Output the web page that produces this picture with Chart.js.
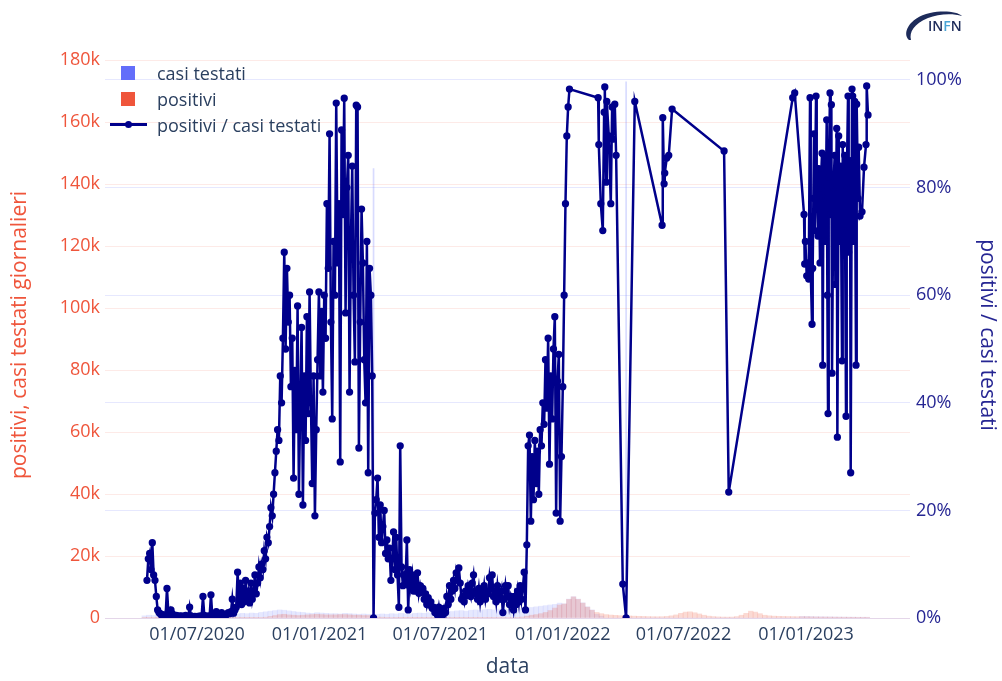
<!DOCTYPE html>
<html lang="it">
<head>
<meta charset="utf-8">
<title>positivi / casi testati</title>
<script src="https://cdn.jsdelivr.net/npm/chart.js@4.4.1/dist/chart.umd.min.js"></script>
<style>
  body { margin: 0; background: #fff; font-family: "Open Sans", sans-serif; }
  #wrap { position: relative; width: 1002px; height: 681px; overflow: hidden; }
  #chart { position: absolute; left: 0; top: 0; }
  .leg { position: absolute; left: 157px; font-size: 18px; line-height: 20px; color: #2a3f5f; white-space: nowrap; }
  .sq { position: absolute; left: 121px; width: 14px; height: 14px; }
  #logo { position: absolute; left: 900px; top: 4px; }
</style>
</head>
<body>
<div id="wrap">
  <canvas id="chart" width="1002" height="681"></canvas>
  <div class="sq" style="top:66px;background:#636efa"></div>
  <div class="leg" style="top:63px">casi testati</div>
  <div class="sq" style="top:92px;background:#ef553b"></div>
  <div class="leg" style="top:89px">positivi</div>
  <div style="position:absolute;left:110px;top:123px;width:37px;height:3px;background:#00008b"></div>
  <div style="position:absolute;left:125px;top:121px;width:7px;height:7px;border-radius:50%;background:#00008b"></div>
  <div class="leg" style="top:115px">positivi / casi testati</div>
  <svg id="logo" width="70" height="40" viewBox="0 0 70 40">
    <path d="M9 36 C2 30 8 14 30 9 C44 6 58 8 62 12 C52 9 38 10 28 14 C14 20 9 28 11 36 Z" fill="#1d2b5a"/>
    <text x="28" y="27" font-family="Open Sans, sans-serif" font-size="14" font-weight="600" fill="#1d2b5a">IN<tspan fill="#4aa3d5">F</tspan>N</text>
  </svg>
</div>
<script>
// x tick dates
const xTickDates = ["2020-07-01", "2021-01-01", "2021-07-01", "2022-01-01", "2022-07-01", "2023-01-01"];
const xRange = ["2020-02-14", "2023-06-06"];

// left axis ticks (positivi, casi testati) and right axis ticks (ratio)
const leftTicks = [0, 20000, 40000, 60000, 80000, 100000, 120000, 140000, 160000, 180000];
const rightTicks = [0, 0.2, 0.4, 0.6, 0.8, 1];

// positivi / casi testati (%), one value every 2 days from 2020-04-17 to 2022-01-09
const ratioStart = "2020-04-17";
const ratioStepDays = 2;
const ratioDense = [
  7, 11, 12, 9, 14, 8, 7, 4,
  1.5, 1, 0.8, 0.5, 0.6, 0.4, 0.5, 5.5,
  1.2, 0.5, 1.5, 0.8, 0.3, 0.4, 0.5, 0.3, 0.4,
  0.3, 0.4, 0.2, 0.3, 0.5, 0.2, 0.3, 2.0, 0.4, 0.3, 0.2, 0.3,
  0.2, 0.3, 0.2, 0.4, 0.3, 4.0, 0.5, 0.3, 0.2, 0.4, 0.3,
  4.3, 0.5, 0.4, 0.6, 1.2, 0.8, 0.5, 0.7, 1.0, 0.6, 0.4,
  0.5, 0.7, 1.0, 0.8, 1.2, 3.5, 0.9, 1.5, 2.0, 8.5, 3.0,
  6.5, 2.5, 5.5, 3.0, 7.0, 4.0, 5.0, 2.8, 6.5, 3.5, 5.0, 8.0, 4.5,
  6.5, 9.5, 7.5, 10.0,
  9, 12.5, 11, 15, 14, 17,
  20.5, 19, 23,
  27, 31, 35, 33,
  45, 40, 52, 68,
  50, 65, 55, 60, 43, 52,
  26, 46, 35, 58, 23, 40,
  54, 21, 45, 33, 56, 38, 60.6,
  40, 25, 45, 19, 35, 48, 60.6,
  45, 57, 42, 60, 52, 77, 65,
  90, 55, 37, 70, 60, 95.7, 66, 77, 29,
  90.7, 75, 96.6, 56.7, 80, 86, 42,
  70, 84, 60, 47.6, 95.3, 95, 31.6,
  55, 76, 66, 48, 40, 70, 27, 65,
  60, 45, 0,
  19.5, 22, 26, 15, 21, 14, 17, 20,
  12, 14.5, 11, 13, 7, 11, 16, 9,
  15, 8, 2, 32, 9.5, 6, 8,
  7, 14.5, 1.5, 9, 6, 8, 5, 7.5,
  5, 8.4, 4.6, 6, 4.8, 5.5, 3.5,
  4.5, 2.5, 3.8, 2.4, 3, 1.8, 2, 1,
  1.5, 0.5, 2, 0.3, 1.2, 0.6, 1.8,
  1, 4, 2.5, 6, 3.5, 5,
  7, 5.5, 8.4, 7, 9.3, 6.5,
  3.5, 4, 3, 5, 4.2, 6, 5, 4,
  6.5, 8, 5, 4.5, 3.5, 5.5, 3,
  5, 4, 6, 3.5, 5, 4.5, 7.5, 5.5,
  8, 4, 5, 3, 6, 4, 3.5,
  5, 1, 3.5, 6, 4, 6, 2.5, 4,
  3, 1.5, 4, 2.5, 5, 3, 6,
  3.5, 5.5, 8.5, 1.5, 13.6,
  32, 34, 18, 30, 22, 33,
  25, 31, 23, 35, 32, 40, 36,
  48, 39, 52, 28.6, 45, 37, 50,
  56, 19.5, 44, 49, 18,
  30, 43, 60, 77, 89.6, 95, 98.3
];

// positivi / casi testati (%), sparse days from 2022-02 onwards
const ratioSparseDates = [
  "2022-02-23", "2022-02-24", "2022-02-27", "2022-03-02", "2022-03-04", "2022-03-05", "2022-03-07",
  "2022-03-08", "2022-03-11", "2022-03-14", "2022-03-16", "2022-03-17", "2022-03-20", "2022-03-22",
  "2022-04-01", "2022-04-06", "2022-04-19",
  "2022-05-30", "2022-05-31", "2022-06-02", "2022-06-03", "2022-06-06", "2022-06-09", "2022-06-14",
  "2022-08-31", "2022-09-07", "2022-12-12", "2022-12-15",
  "2022-12-29", "2022-12-30", "2022-12-31", "2023-01-02", "2023-01-04", "2023-01-05", "2023-01-07",
  "2023-01-08", "2023-01-10", "2023-01-11", "2023-01-12", "2023-01-13", "2023-01-14", "2023-01-16",
  "2023-01-17", "2023-01-19", "2023-01-20", "2023-01-22", "2023-01-23", "2023-01-25", "2023-01-26",
  "2023-01-27", "2023-01-28", "2023-01-30", "2023-02-01", "2023-02-02", "2023-02-03", "2023-02-04",
  "2023-02-06", "2023-02-07", "2023-02-08", "2023-02-09", "2023-02-11", "2023-02-13", "2023-02-14",
  "2023-02-16", "2023-02-17", "2023-02-19", "2023-02-20", "2023-02-22", "2023-02-24", "2023-02-25",
  "2023-02-27", "2023-02-28", "2023-03-02", "2023-03-03", "2023-03-05", "2023-03-06", "2023-03-08",
  "2023-03-09", "2023-03-11", "2023-03-12", "2023-03-13", "2023-03-15", "2023-03-17", "2023-03-18",
  "2023-03-20", "2023-03-21", "2023-03-23", "2023-03-26", "2023-03-29", "2023-04-01", "2023-04-02",
  "2023-04-04"
];
const ratioSparse = [
  96.7, 88, 77, 72, 94, 98.7, 81,
  96, 89.6, 77, 95, 89, 95.5, 86,
  6.3, 0, 96,
  73, 93, 80.7, 82.7, 85.5, 86, 94.6,
  86.8, 23.4, 96.7, 97.6,
  75, 65.8, 70, 63.6, 66, 63, 96.7,
  64.5, 54.6, 65, 78, 90, 72, 97,
  80, 71, 83.5, 66, 80, 86.4, 47,
  78, 86, 70, 92.6, 60, 38, 82,
  97.6, 75, 95.4, 45.5, 80, 86, 62,
  91, 33.6, 89.6, 70, 84, 47.8, 88,
  72, 86, 37.5, 80, 97, 68, 85,
  27, 98.3, 97, 70, 96, 47, 95.5,
  78, 87.5, 74.7, 75.5, 83.8, 88, 98.9,
  93.5
];

// weekly bars from 2020-04-13
const barWeekStart = "2020-04-13";
const casiTestati = [
  700, 900, 800, 1000, 900, 1100, 1000,
  1200, 1000, 1100, 900, 1000, 1200,
  1100, 1000, 1200, 1300, 1100, 1200, 1400, 1300,
  1500, 1400, 1600, 1500,
  1800, 2000, 2200, 2400, 2600, 2500, 2300, 2100,
  1900, 1800, 1600, 1500, 1700, 1600, 1500, 1400,
  1400, 1300, 1500, 1400, 1300, 1200, 1300, 1200, 1100,
  1200, 1300, 1200, 1400, 1300, 1500, 1400, 1300, 1500, 1600, 1500, 1700, 1600,
  1800, 2000, 2200, 2100, 2300, 2400, 2200, 2500, 2600, 2400, 2700, 2800, 2600, 2900, 3000, 2800, 2700, 2900,
  3000, 3200, 3400, 3600, 3800,
  4000, 4200, 4400, 4800,
  4600, 6100, 6900, 6100, 4900, 3600,
  2600, 1200, 600, 0, 0, 0, 0, 0, 0, 0,
  0, 0, 0, 0, 0, 0, 0, 0, 0, 0,
  0, 0, 0, 0, 0, 0, 0, 0, 0, 0,
  0, 0, 0, 0, 0, 0, 0, 0, 0, 0,
  0, 0, 0, 0, 0,
  500, 480, 450, 420, 400, 380, 360, 340, 320, 300, 290, 280, 270, 260, 250
];
const positivi = [
  100, 80, 60, 30, 20, 15, 10,
  10, 8, 8, 10, 8, 10, 12, 10, 15, 20, 25, 30, 35, 40, 50, 60, 70, 80,
  120, 250, 500, 800, 1100, 1200, 1000, 900,
  800, 900, 1000, 1100, 1200, 1100, 1000, 1000,
  1000, 1100, 1100, 1000, 900, 900, 800, 800, 700,
  300, 250, 200, 160, 120, 90, 70, 50, 40, 30, 25, 20, 20,
  40, 80, 110, 120, 110, 100, 90, 100, 110, 100, 120, 110, 120, 130, 140, 150, 160, 200,
  300, 600, 900, 1100, 1400,
  1800, 2400, 3200, 4200,
  4500, 6000, 6800, 6000, 4800, 3500,
  2500, 1800, 1400, 1100, 950, 850, 750, 700,
  650, 600, 550, 500, 450, 420, 400, 420, 500,
  700, 1000, 1500, 1900, 2000, 1700, 1300, 900, 600, 450,
  350, 300, 280, 300, 450, 900, 1500, 2200, 1900,
  1400, 900, 700, 600, 550, 500, 480, 450, 420,
  400, 380, 350, 330, 300, 300, 280, 260, 250, 240, 230, 220, 210, 200, 200
];

// single days with very large casi testati
const casiSpikeDates = ["2021-03-23", "2022-04-06"];
const casiSpikes = [145000, 173000];

const DAY = 86400000;
const FONT = "'Open Sans', sans-serif";
const TXT = "#2a3f5f";

function fmtDate(ms) {
  const d = new Date(ms);
  const dd = String(d.getUTCDate()).padStart(2, "0");
  const mm = String(d.getUTCMonth() + 1).padStart(2, "0");
  return `${dd}/${mm}/${d.getUTCFullYear()}`;
}

const t0 = Date.parse(ratioStart);
const ratioPoints = ratioDense.map((v, i) => ({ x: t0 + i * ratioStepDays * DAY, y: v / 100 }))
  .concat(ratioSparseDates.map((d, i) => ({ x: Date.parse(d), y: ratioSparse[i] / 100 })));

const w0 = Date.parse(barWeekStart);
const casiPoints = casiTestati.map((v, i) => ({ x: w0 + i * 7 * DAY, y: v }));
const posPoints = positivi.map((v, i) => ({ x: w0 + i * 7 * DAY, y: v }));
const spikePoints = casiSpikeDates.map((d, i) => ({ x: Date.parse(d), y: casiSpikes[i] }));

new Chart(document.getElementById("chart").getContext("2d"), {
  type: "bar",
  data: {
    datasets: [
      {
        type: "line",
        label: "positivi / casi testati",
        data: ratioPoints,
        yAxisID: "y2",
        borderColor: "#00008b",
        backgroundColor: "#00008b",
        borderWidth: 2.5,
        pointRadius: 2.4,
        pointHoverRadius: 2.4,
        tension: 0,
        order: 0
      },
      {
        label: "positivi",
        data: posPoints,
        yAxisID: "y",
        backgroundColor: "rgba(239,85,59,0.22)",
        barThickness: 4.7,
        grouped: false,
        order: 1
      },
      {
        label: "casi testati",
        data: casiPoints,
        yAxisID: "y",
        backgroundColor: "rgba(99,110,250,0.16)",
        barThickness: 4.7,
        grouped: false,
        order: 2
      },
      {
        label: "casi testati",
        data: spikePoints,
        yAxisID: "y",
        backgroundColor: "rgba(99,110,250,0.25)",
        barThickness: 1,
        grouped: false,
        order: 3
      }
    ]
  },
  options: {
    responsive: false,
    animation: false,
    devicePixelRatio: 1,
    layout: { padding: { top: 52, right: 0, bottom: 0, left: 0 } },
    plugins: {
      legend: { display: false },
      tooltip: { enabled: false }
    },
    scales: {
      x: {
        type: "linear",
        offset: false,
        min: Date.parse(xRange[0]),
        max: Date.parse(xRange[1]),
        afterBuildTicks: (s) => { s.ticks = xTickDates.map(d => ({ value: Date.parse(d) })); },
        afterFit: (s) => { s.height = 63; },
        grid: { display: false, drawTicks: false, offset: false },
        border: { display: false },
        ticks: {
          autoSkip: false,
          maxRotation: 0,
          padding: 6,
          color: TXT,
          font: { family: FONT, size: 18 },
          callback: (v) => fmtDate(v)
        },
        title: {
          display: true,
          text: "data",
          color: TXT,
          font: { family: FONT, size: 21 },
          padding: { top: 0, bottom: 1 }
        }
      },
      y: {
        position: "left",
        min: 0,
        max: 182600,
        afterBuildTicks: (s) => { s.ticks = leftTicks.map(v => ({ value: v })); },
        afterFit: (s) => { s.width = 105; },
        grid: { color: "rgba(239,85,59,0.12)", drawTicks: false },
        border: { display: false },
        ticks: {
          padding: 5,
          color: "#ef553b",
          font: { family: FONT, size: 18 },
          callback: (v) => v === 0 ? "0" : (v / 1000) + "k"
        },
        title: {
          display: true,
          text: "positivi, casi testati giornalieri",
          color: "#ef553b",
          font: { family: FONT, size: 21 },
          padding: { top: 7, bottom: 0 }
        }
      },
      y2: {
        position: "right",
        min: 0,
        max: 1.052,
        afterBuildTicks: (s) => { s.ticks = rightTicks.map(v => ({ value: v })); },
        afterFit: (s) => { s.width = 92; },
        grid: { color: "rgba(99,110,250,0.16)", drawTicks: false },
        border: { display: false },
        ticks: {
          padding: 6,
          color: "#262693",
          font: { family: FONT, size: 18 },
          callback: (v) => Math.round(v * 100) + "%"
        },
        title: {
          display: true,
          text: "positivi / casi testati",
          color: "#262693",
          font: { family: FONT, size: 21 },
          padding: { top: 2, bottom: 0 }
        }
      }
    }
  }
});
</script>
</body>
</html>
